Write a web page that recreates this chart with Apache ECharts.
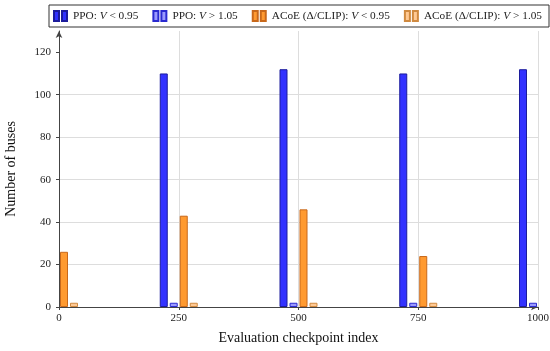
<!DOCTYPE html>
<html>
<head>
<meta charset="utf-8">
<script src="https://cdn.jsdelivr.net/npm/echarts@6/dist/echarts.min.js"></script>
<style>html,body{margin:0;padding:0;background:#fff}#c{width:550px;height:351px}</style>
</head>
<body>
<div id="c"></div>
<script>
const checkpoints = [0, 250, 500, 750, 1000];
const seriesNames = ['PPO: V < 0.95', 'PPO: V > 1.05', 'ACoE (Δ/CLIP): V < 0.95', 'ACoE (Δ/CLIP): V > 1.05'];
const ppoLow   = [null, 110, 112, 110, 112];
const ppoHigh  = [null, 2, 2, 2, 2];
const acoeLow  = [26, 43, 46, 24, null];
const acoeHigh = [2, 2, 2, 2, null];
const yTicks = [0, 20, 40, 60, 80, 100, 120];
const xTicks = [0, 250, 500, 750, 1000];

const FONT = 'Liberation Serif';
const fills = ['#3232ff', '#9a9aff', '#ff9a30', '#ffc993'];
const borders = ['#1c1c9c', '#2a2ad0', '#c8681a', '#d08a40'];

function pairs(vals) {
  return checkpoints.map((x, i) => vals[i] == null ? null : [x, vals[i]]).filter(d => d);
}
const allVals = [ppoLow, ppoHigh, acoeLow, acoeHigh];

const chart = echarts.init(document.getElementById('c'), null, {renderer: 'canvas'});
chart.setOption({
  animation: false,
  backgroundColor: '#fff',
  grid: {left: 59, right: 12, top: 31, bottom: 44, containLabel: false, outerBoundsMode: 'none'},
  legend: {
    left: 49, top: 5, width: 520,
    padding: [5, 7, 5, 4],
    borderColor: '#333', borderWidth: 1,
    itemWidth: 13, itemHeight: 10, itemGap: 14,
    icon: 'path://M0,0H5V10H0Z M8,0H13V10H8Z',
    data: seriesNames,
    formatter: n => n.replace(': V', ': {i|V}'),
    textStyle: {fontFamily: FONT, fontSize: 11.3, color: '#222', padding: [0, 0, 0, 1],
      rich: {i: {fontFamily: FONT, fontSize: 11.3, fontStyle: 'italic', color: '#222'}}}
  },
  xAxis: {
    type: 'value', min: 0, max: 1000, interval: 250,
    name: 'Evaluation checkpoint index', nameLocation: 'middle', nameGap: 24,
    nameTextStyle: {fontFamily: FONT, fontSize: 14, color: '#111'},
    axisLine: {show: true, lineStyle: {color: '#444', width: 1}, symbol: ['none', 'arrow'], symbolSize: [5, 7]},
    axisTick: {show: true, length: 3, inside: false, lineStyle: {color: '#444'}},
    axisLabel: {fontFamily: FONT, fontSize: 11, color: '#222', margin: 6, customValues: xTicks, formatter: v => String(v)},
    splitLine: {show: true, showMinLine: false, lineStyle: {color: '#ddd', width: 1}}
  },
  yAxis: {
    type: 'value', min: 0, max: 130,
    name: 'Number of buses', nameLocation: 'middle', nameGap: 41,
    nameTextStyle: {fontFamily: FONT, fontSize: 14, color: '#111'},
    axisLine: {show: true, lineStyle: {color: '#444', width: 1}, symbol: ['none', 'arrow'], symbolSize: [5, 7]},
    axisTick: {show: true, length: 3, customValues: yTicks, lineStyle: {color: '#444'}},
    axisLabel: {fontFamily: FONT, fontSize: 11, color: '#222', margin: 8, customValues: yTicks},
    splitLine: {show: true, showMinLine: false, showMaxLine: false, lineStyle: {color: '#ddd', width: 1}}
  },
  series: seriesNames.map((name, k) => ({
    name, type: 'bar', clip: true,
    barWidth: 8, barGap: '25%',
    itemStyle: {color: fills[k], borderColor: borders[k], borderWidth: 1},
    data: pairs(allVals[k])
  }))
});
</script>
</body>
</html>
